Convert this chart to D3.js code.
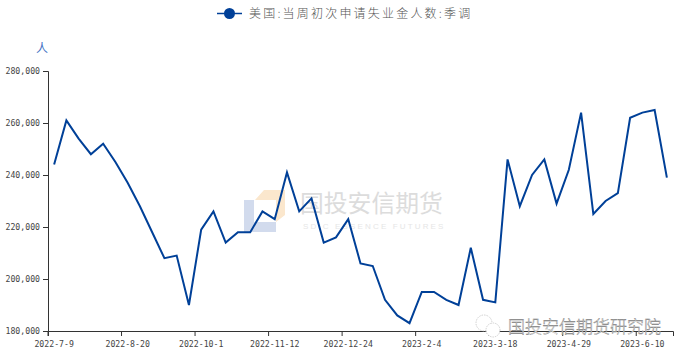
<!DOCTYPE html>
<html>
<head>
  <meta charset="utf-8">
  <title>美国:当周初次申请失业金人数:季调</title>
  <script src="https://d3js.org/d3.v7.min.js"></script>
  <style>
    html, body { margin: 0; padding: 0; background: #fff; overflow: hidden; }
    text { font-family: "Noto Sans CJK SC", sans-serif; }
    .axis path, .axis line { fill: none; stroke: #333; }
    .axis text { font-family: "DejaVu Sans Mono", monospace; font-size: 8.2px; fill: #444; }
  </style>
</head>
<body>
  <div id="chart"></div>
  <script>
    const seriesName = "美国:当周初次申请失业金人数:季调";
    const unit = "人";

    // weekly dates
    const dates = [
      "2022-7-9", "2022-7-16", "2022-7-23", "2022-7-30", "2022-8-6", "2022-8-13",
      "2022-8-20", "2022-8-27", "2022-9-3", "2022-9-10", "2022-9-17", "2022-9-24",
      "2022-10-1", "2022-10-8", "2022-10-15", "2022-10-22", "2022-10-29", "2022-11-5",
      "2022-11-12", "2022-11-19", "2022-11-26", "2022-12-3", "2022-12-10", "2022-12-17",
      "2022-12-24", "2022-12-31", "2023-1-7", "2023-1-14", "2023-1-21", "2023-1-28",
      "2023-2-4", "2023-2-11", "2023-2-18", "2023-2-25", "2023-3-4", "2023-3-11",
      "2023-3-18", "2023-3-25", "2023-4-1", "2023-4-8", "2023-4-15", "2023-4-22",
      "2023-4-29", "2023-5-6", "2023-5-13", "2023-5-20", "2023-5-27", "2023-6-3",
      "2023-6-10", "2023-6-17", "2023-6-24"
    ];
    const claims = [
      244000, 261000, 254000, 248000, 252000, 245000,
      237000, 228000, 218000, 208000, 209000, 190000,
      219000, 226000, 214000, 218000, 218000, 226000,
      223000, 241000, 226000, 231000, 214000, 216000,
      223000, 206000, 205000, 192000, 186000, 183000,
      195000, 195000, 192000, 190000, 212000, 192000,
      191000, 246000, 228000, 240000, 246000, 229000,
      242000, 264000, 225000, 230000, 233000, 262000,
      264000, 265000, 239000
    ];
    const xTickLabels = ["2022-7-9", "2022-8-20", "2022-10-1", "2022-11-12", "2022-12-24",
      "2023-2-4", "2023-3-18", "2023-4-29", "2023-6-10"];
    const yTicks = [180000, 200000, 220000, 240000, 260000, 280000];

    const width = 682, height = 357;
    const margin = {top: 71, right: 9, bottom: 26, left: 48};
    const lineColor = "#004098";

    const svg = d3.select("#chart").append("svg")
      .attr("width", width)
      .attr("height", height)
      .style("display", "block");

    const x = d3.scaleBand().domain(dates).range([margin.left, width - margin.right]);
    const y = d3.scaleLinear().domain([180000, 280000]).range([height - margin.bottom, margin.top]);

    // watermark logo + company name
    const mark = svg.append("g");
    mark.append("path")
      .attr("d", "M264,190H285V215L276,222V200H255Z")
      .attr("fill", "#fbe7cd");
    mark.append("path")
      .attr("d", "M244,200H254V222H276V232H244Z")
      .attr("fill", "#d2dbed");
    mark.append("text")
      .attr("x", 300).attr("y", 212)
      .attr("font-size", 23.8)
      .attr("fill", "#dcdcdc")
      .text("国投安信期货");
    mark.append("text")
      .attr("x", 303).attr("y", 229)
      .attr("font-size", 8)
      .attr("letter-spacing", 2.15)
      .style("font-family", "'Liberation Sans', sans-serif")
      .attr("fill", "#e6e6e6")
      .text("SDIC ESSENCE FUTURES");

    // axes
    const yAxis = d3.axisLeft(y).tickValues(yTicks).tickSize(5)
      .tickFormat(d3.format(","));
    svg.append("g")
      .attr("class", "axis")
      .attr("transform", `translate(${margin.left},0)`)
      .call(yAxis);

    const xAxis = d3.axisBottom(x).tickValues(xTickLabels).tickSize(5);
    const xg = svg.append("g")
      .attr("class", "axis")
      .attr("transform", `translate(0,${height - margin.bottom})`)
      .call(xAxis);
    // ticks sit on the band edge, labels stay on the band centre
    xg.selectAll(".tick line").attr("transform", `translate(${-x.bandwidth() / 2},0)`);
    xg.selectAll(".tick text").attr("y", 10);

    // unit
    svg.append("text")
      .attr("x", 42).attr("y", 53)
      .attr("text-anchor", "middle")
      .attr("font-size", 12)
      .attr("fill", "#4472c4")
      .text(unit);

    // series
    const line = d3.line()
      .x((d, i) => x(dates[i]) + x.bandwidth() / 2)
      .y(d => y(d));
    svg.append("path")
      .datum(claims)
      .attr("fill", "none")
      .attr("stroke", lineColor)
      .attr("stroke-width", 2)
      .attr("stroke-linejoin", "miter")
      .attr("d", line);

    // legend
    const legend = svg.append("g");
    legend.append("line")
      .attr("x1", 217).attr("x2", 242)
      .attr("y1", 13.5).attr("y2", 13.5)
      .attr("stroke", lineColor).attr("stroke-width", 1.5);
    legend.append("circle")
      .attr("cx", 229.5).attr("cy", 13.5).attr("r", 5.5)
      .attr("fill", lineColor);
    legend.append("text")
      .attr("x", 249).attr("y", 18)
      .attr("font-size", 12)
      .attr("font-weight", 300)
      .attr("letter-spacing", 2.2)
      .attr("fill", "#555")
      .text(seriesName);

    // account watermark, bottom right
    const wechat = svg.append("g").attr("fill", "#fff").attr("stroke", "#bbb")
      .attr("stroke-width", 0.7).attr("stroke-dasharray", "1.5 1");
    wechat.append("circle").attr("cx", 484).attr("cy", 323).attr("r", 8);
    wechat.append("circle").attr("cx", 493).attr("cy", 330).attr("r", 7);
    svg.append("text")
      .attr("x", 508).attr("y", 333)
      .attr("font-size", 17)
      .attr("font-weight", 300)
      .attr("fill", "#fff")
      .attr("stroke", "#777")
      .attr("stroke-width", 0.4)
      .text("国投安信期货研究院");
  </script>
</body>
</html>
